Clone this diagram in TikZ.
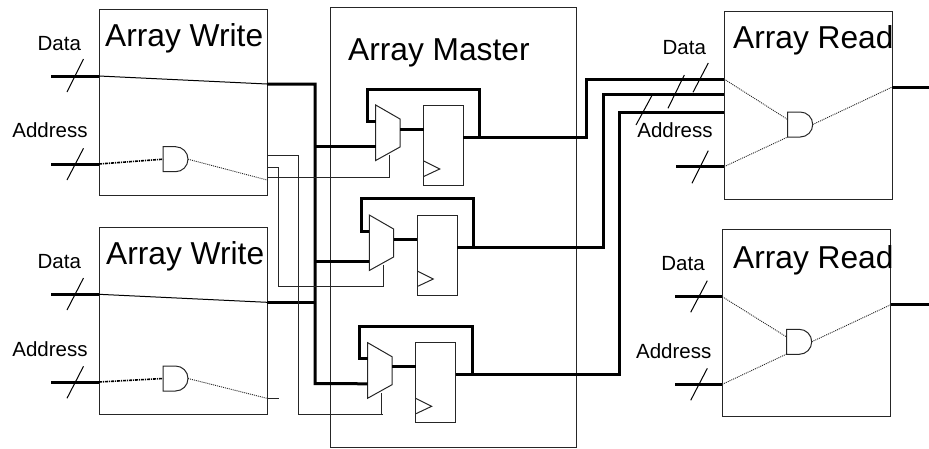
\documentclass[tikz,border=0pt]{standalone}
\usepackage{fontspec}
\setmainfont{Liberation Sans}
\tikzset{
  x=1pt,y=1pt,
  box/.style={draw=black!85,line width=1pt,fill=none,inner sep=0pt,outer sep=0pt,anchor=north west},
  big/.style={font=\fontsize{31.7}{36}\selectfont,inner sep=0pt,anchor=base west},
  small/.style={font=\fontsize{20.5}{24}\selectfont,inner sep=0pt,anchor=base},
  gatebox/.style={inner sep=0pt,outer sep=0pt,minimum width=25pt,minimum height=25pt,anchor=north west},
  thickw/.style={line width=3pt,line join=miter},
  wire/.style={line width=1pt,draw=black!85},
  thinl/.style={line width=1pt},
  dotl/.style={line width=0.9pt,dash pattern=on 1pt off 1pt,draw=black!85},
  dashl/.style={line width=1.6pt,dash pattern=on 3pt off 1pt on 1pt off 1pt},
  shape line/.style={line width=1pt,draw=black!85,line join=miter}
}
% name, x, y(top, positive down)
\newcommand{\andgate}[3]{%
  \node[gatebox] (#1) at (#2,-#3) {};
  \draw[shape line] (#1.north west) -- ++(12.5,0) arc[start angle=90,end angle=-90,radius=12.5] -- (#1.south west) -- cycle;
}
% name, left x, top y, width, height
\newcommand{\regbox}[5]{%
  \node[box,minimum width=#4pt,minimum height=#5pt] (#1) at (#2,-#3) {};
  \draw[shape line] ($(#1.south west)+(0,24)$) -- ($(#1.south west)+(16,16)$) -- ($(#1.south west)+(0,8.5)$);
}
% name, left x, top y
\newcommand{\muxshape}[3]{%
  \coordinate (#1tl) at (#2,-#3);
  \coordinate (#1tr) at ($(#1tl)+(24.3,-14)$);
  \coordinate (#1br) at ($(#1tl)+(24.3,-42)$);
  \coordinate (#1bl) at ($(#1tl)+(0,-55.5)$);
  \draw[shape line] (#1tl) -- (#1tr) -- (#1br) -- (#1bl) -- cycle;
}
\usetikzlibrary{calc}
\begin{document}
\begin{tikzpicture}
\useasboundingbox (0,0) rectangle (929,-448);

% boxes
\node[box,minimum width=168pt,minimum height=186.5pt] (aw1) at (99,-9) {};
\node[box,minimum width=168pt,minimum height=186.5pt] (aw2) at (99,-227.5) {};
\node[box,minimum width=246.5pt,minimum height=440pt] (am) at (330,-7.3) {};
\node[box,minimum width=168.3pt,minimum height=187.5pt] (ar1) at (724,-11.7) {};
\node[box,minimum width=168.3pt,minimum height=187.5pt] (ar2) at (722.3,-229) {};

% titles
\node[big] (taw1) at (105,-46) {Array Write};
\node[big] (taw2) at (106,-264.7) {Array Write};
\node[big] (tam) at (348,-60) {Array Master};
\node[big] (tar1) at (733,-48.3) {Array Read};
\node[big] (tar2) at (733,-268) {Array Read};

% labels
\node[small] (l1) at (59.3,-50) {Data};
\node[small] (l2) at (50,-137.7) {Address};
\node[small] (l3) at (59.3,-268.3) {Data};
\node[small] (l4) at (50,-356.3) {Address};
\node[small] (l5) at (684.3,-54) {Data};
\node[small] (l6) at (675,-137.7) {Address};
\node[small] (l7) at (683,-270) {Data};
\node[small] (l8) at (673.7,-358.3) {Address};

% gates
\andgate{g1}{163}{146.7}
\andgate{g2}{163}{366}
\andgate{g3}{787.7}{112}
\andgate{g4}{786.7}{329.3}

% muxes and registers
\muxshape{m1}{375.7}{105}
\muxshape{m2}{369.3}{215}
\muxshape{m3}{367.7}{342.7}
\regbox{r1}{423.7}{105}{39.6}{80}
\regbox{r2}{417.3}{215}{40}{80}
\regbox{r3}{415.7}{342.7}{40}{79.6}

% named ends
\coordinate (d1) at (51,-76);
\coordinate (d1b) at (99,-76);
\coordinate (d1c) at (267,-84);
\coordinate (d1d) at (315,-84);
\coordinate (a1) at (51,-164);
\coordinate (a1b) at (99,-164);
\coordinate (d2) at (51,-294.3);
\coordinate (d2b) at (99,-294.3);
\coordinate (d2c) at (267,-302.3);
\coordinate (d2d) at (315,-302.3);
\coordinate (a2) at (51,-382);
\coordinate (a2b) at (99,-382);
\coordinate (bus) at (315,-383.5);

% write data
\draw[thickw] (d1) -- (d1b);
\draw[thinl] (d1b) -- (d1c);
\draw[thickw] (d1c) -- (d1d) -- (bus) -- (m3bl |- 0,-383.8);
\draw[thickw] (315,-146.7) -- (m1bl |- 0,-146.7);
\draw[thickw] (315,-261) -- (m2bl |- 0,-261);
\draw[thickw] (d2) -- (d2b);
\draw[thinl] (d2b) -- (d2c);
\draw[thickw] (d2c) -- (d2d);

% write address
\draw[thickw] (a1) -- (a1b);
\draw[dashl] (a1b) -- (g1.west);
\draw[dotl] (g1.east) -- (267,-180);
\draw[thickw] (a2) -- (a2b);
\draw[dashl] (a2b) -- (g2.west);
\draw[dotl] (g2.east) -- (267,-398.3);
\draw[wire] (267,-398.3) -- (279,-398.3);

% select wires
\draw[wire] (267,-155) -- (298.5,-155) -- (298.5,-414.7) -- (383,-414.7);
\draw[wire] (381.7,-414.7) -- (381.7,-392.7);
\draw[wire] (267,-167) -- (278,-167) -- (278,-286.7) -- (383.7,-286.7) -- (383.7,-265);
\draw[wire] (267,-177.3) -- (389.3,-177.3) -- (389.3,-155);

% mux to register
\draw[thickw] (m1tr |- 0,-129.3) -- (r1.west |- 0,-129.3);
\draw[thickw] (m2tr |- 0,-239.3) -- (r2.west |- 0,-239.3);
\draw[thickw] (m3tr |- 0,-366.3) -- (r3.west |- 0,-366.3);

% feedback
\draw[thickw] (375.7,-121) -- (367.3,-121) -- (367.3,-89) -- (479,-89) -- (479,-137.3);
\draw[thickw] (369.3,-231.7) -- (361.7,-231.7) -- (361.7,-198.3) -- (473.3,-198.3) -- (473.3,-247.3);
\draw[thickw] (367.7,-358.3) -- (359.3,-358.3) -- (359.3,-326.7) -- (472,-326.7) -- (472,-374.3);

% outputs
\draw[thickw] (r1.east |- 0,-137.3) -- (586.7,-137.3) -- (586.7,-79) -- (ar1.west |- 0,-79);
\draw[thickw] (r2.east |- 0,-247.3) -- (603.3,-247.3) -- (603.3,-94.3) -- (ar1.west |- 0,-94.3);
\draw[thickw] (r3.east |- 0,-374.3) -- (619,-374.3) -- (619,-112) -- (ar1.west |- 0,-112);

% read side
\draw[thickw] (676,-166.7) -- (ar1.west |- 0,-166.7);
\draw[dotl] (724,-79) -- (787.7,-119.5);
\draw[dotl] (724,-166.7) -- (787.7,-137);
\draw[dotl] (g3.east) -- (892.3,-87);
\draw[thickw] (892.3,-87) -- (929,-87);
\draw[thickw] (675,-296.7) -- (ar2.west |- 0,-296.7);
\draw[thickw] (675,-384.3) -- (ar2.west |- 0,-384.3);
\draw[dotl] (722.3,-296.7) -- (786.7,-337);
\draw[dotl] (722.3,-384.3) -- (786.7,-354);
\draw[dotl] (g4.east) -- (890.7,-304.7);
\draw[thickw] (890.7,-304.7) -- (929,-304.7);

% bus slashes
\draw[thinl] (83.5,-59) -- (67,-92);
\draw[thinl] (83.5,-148.3) -- (67,-180);
\draw[thinl] (83.5,-278) -- (67,-310);
\draw[thinl] (83.5,-366.3) -- (67,-398.3);
\draw[thinl] (708.3,-63) -- (693,-92.3);
\draw[thinl] (684.3,-75) -- (668,-108.3);
\draw[thinl] (651.7,-96) -- (636,-125);
\draw[thinl] (708.3,-150.7) -- (692,-183.3);
\draw[thinl] (707.3,-280.7) -- (690.7,-312.3);
\draw[thinl] (707.3,-368.3) -- (690.7,-400.3);
\end{tikzpicture}
\end{document}
